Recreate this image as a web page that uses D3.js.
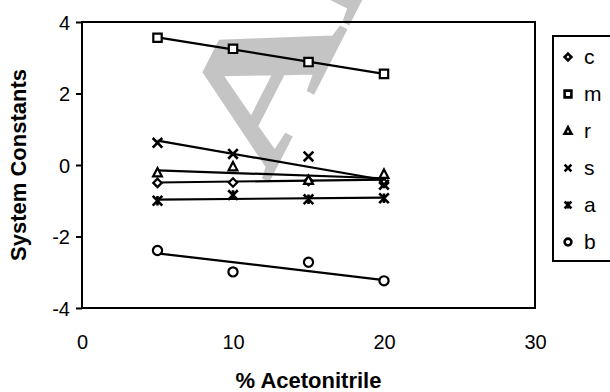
<!DOCTYPE html>
<html>
<head>
<meta charset="utf-8">
<script src="https://cdn.jsdelivr.net/npm/d3@7"></script>
<style>
  html, body { margin: 0; padding: 0; background: #fff; }
  svg { display: block; font-family: "Liberation Sans", Arial, sans-serif; }
</style>
</head>
<body>
<div id="chart"></div>
<script>
// System constants vs % acetonitrile — markers are measured values, lines are fitted trends

const xValues = [5, 10, 15, 20];
const seriesNames = ["c", "m", "r", "s", "a", "b"];
const cValues = [-0.5, -0.49, -0.45, -0.5];
const mValues = [3.56, 3.25, 2.88, 2.55];
const rValues = [-0.22, -0.05, -0.43, -0.26];
const sValues = [0.62, 0.31, 0.24, -0.55];
const aValues = [-1.0, -0.84, -0.96, -0.93];
const bValues = [-2.39, -2.99, -2.72, -3.24];
// trend line values at x = 5 and x = 20
const trendX = [5, 20];
const cTrend = [-0.49, -0.41];
const mTrend = [3.57, 2.55];
const rTrend = [-0.15, -0.37];
const sTrend = [0.68, -0.42];
const aTrend = [-0.97, -0.91];
const bTrend = [-2.47, -3.22];
const xTicks = [0, 10, 20, 30];
const yTicks = [-4, -2, 0, 2, 4];

const W = 610, H = 392;
const margin = { top: 22, right: 75, bottom: 84, left: 82 };

const svg = d3.select("#chart").append("svg")
  .attr("width", W).attr("height", H).attr("viewBox", `0 0 ${W} ${H}`);

const x = d3.scaleLinear().domain([0, 30]).range([margin.left, W - margin.right]);
const y = d3.scaleLinear().domain([-4, 4]).range([H - margin.bottom, margin.top]);

// watermark (runs off the top, as in the source)
svg.append("text")
  .attr("transform", "translate(268,182) rotate(-63) scale(1,0.68)")
  .attr("font-family", "Liberation Serif, serif")
  .attr("font-weight", "bold")
  .attr("font-size", 238)
  .attr("fill", "#c4c4c4")
  .attr("stroke", "#c4c4c4").attr("stroke-width", 4)
  .text("Ar");

// plot frame
svg.append("rect")
  .attr("x", x(0)).attr("y", y(4))
  .attr("width", x(30) - x(0)).attr("height", y(-4) - y(4))
  .attr("fill", "none").attr("stroke", "#000").attr("stroke-width", 2);

// y axis ticks + labels
const yAxis = svg.append("g")
  .attr("transform", `translate(${x(0)},0)`)
  .call(d3.axisLeft(y).tickValues(yTicks).tickSize(6).tickPadding(6).tickFormat(d => String(d)));
yAxis.select(".domain").remove();
yAxis.selectAll(".tick line").attr("stroke", "#000").attr("stroke-width", 2);
yAxis.selectAll(".tick text")
  .attr("font-family", "Liberation Sans, Arial, sans-serif")
  .attr("font-size", 20).attr("fill", "#000")
  .attr("dy", "0.36em");

// x axis labels (no tick marks)
const xAxis = svg.append("g")
  .attr("transform", `translate(0,${y(-4)})`)
  .call(d3.axisBottom(x).tickValues(xTicks).tickSize(0).tickPadding(27));
xAxis.select(".domain").remove();
xAxis.selectAll(".tick text")
  .attr("font-family", "Liberation Sans, Arial, sans-serif")
  .attr("font-size", 20).attr("fill", "#000");

// axis titles
svg.append("text")
  .attr("x", (x(0) + x(30)) / 2).attr("y", 388)
  .attr("text-anchor", "middle")
  .attr("font-size", 22).attr("font-weight", "bold")
  .text("% Acetonitrile");
svg.append("text")
  .attr("transform", `translate(26,${y(0)}) rotate(-90)`)
  .attr("text-anchor", "middle")
  .attr("font-size", 22).attr("font-weight", "bold")
  .text("System Constants");

// marker shapes
const markers = {
  c: s => `M0,${-s}L${s},0L0,${s}L${-s},0Z`,
  m: s => `M${-s},${-s}H${s}V${s}H${-s}Z`,
  r: s => `M0,${-s * 1.1}L${s},${s * 0.8}L${-s},${s * 0.8}Z`,
  s: s => `M${-s},${-s}L${s},${s}M${s},${-s}L${-s},${s}`,
  a: s => `M${-s},${-s}L${s},${s}M${s},${-s}L${-s},${s}M0,${-s}V${s}`,
  b: s => `M${s},0A${s},${s} 0 1 1 ${-s},0A${s},${s} 0 1 1 ${s},0Z`
};
const markerSize = { c: 4.2, m: 4.2, r: 4.4, s: 4.8, a: 4.8, b: 4.6 };

const series = [
  { name: "c", values: cValues, trend: cTrend },
  { name: "m", values: mValues, trend: mTrend },
  { name: "r", values: rValues, trend: rTrend },
  { name: "s", values: sValues, trend: sTrend },
  { name: "a", values: aValues, trend: aTrend },
  { name: "b", values: bValues, trend: bTrend }
];

const line = d3.line().x(d => x(d[0])).y(d => y(d[1]));
const gLines = svg.append("g");
const gDots = svg.append("g");

series.forEach(sr => {
  gLines.append("path")
    .attr("d", line(trendX.map((xv, i) => [xv, sr.trend[i]])))
    .attr("fill", "none").attr("stroke", "#000").attr("stroke-width", 2.2);
  gDots.selectAll(null).data(xValues.map((xv, i) => [xv, sr.values[i]]))
    .join("path")
    .attr("transform", d => `translate(${x(d[0])},${y(d[1])})`)
    .attr("d", markers[sr.name](markerSize[sr.name]))
    .attr("fill", sr.name === "s" || sr.name === "a" ? "none" : "#fff")
    .attr("stroke", "#000")
    .attr("stroke-width", sr.name === "s" || sr.name === "a" ? 2.6 : 2.2);
});

// legend
const lg = svg.append("g");
lg.append("rect")
  .attr("x", 553).attr("y", 36).attr("width", 70).attr("height", 225)
  .attr("fill", "#fff").attr("stroke", "#000").attr("stroke-width", 2);
seriesNames.forEach((name, i) => {
  const cy = 57 + i * 37;
  lg.append("path")
    .attr("transform", `translate(568,${cy})`)
    .attr("d", markers[name](3.4))
    .attr("fill", name === "s" || name === "a" ? "none" : "#fff")
    .attr("stroke", "#000").attr("stroke-width", 2.6);
  lg.append("text")
    .attr("x", 584).attr("y", cy + 7)
    .attr("font-size", 21)
    .text(name);
});
</script>
</body>
</html>
